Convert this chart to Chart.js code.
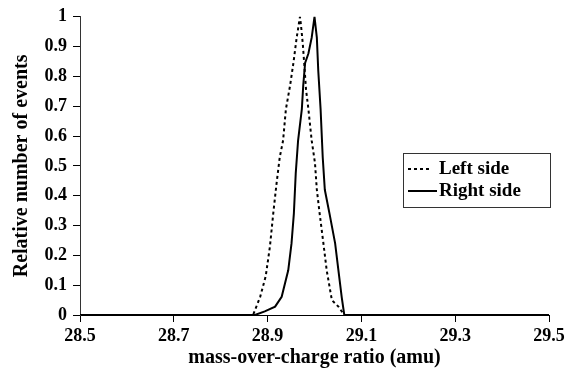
<!DOCTYPE html>
<html>
<head>
<meta charset="utf-8">
<script src="https://cdn.jsdelivr.net/npm/chart.js@4.4.1/dist/chart.umd.min.js"></script>
<style>
  html, body { margin: 0; padding: 0; background: #fff; }
  #wrap { width: 575px; height: 374px; }
</style>
</head>
<body>
<div id="wrap"><canvas id="peakChart"></canvas></div>
<script>
// axis ticks
const xTicks = [28.5, 28.7, 28.9, 29.1, 29.3, 29.5];
const yTicks = [0, 0.1, 0.2, 0.3, 0.4, 0.5, 0.6, 0.7, 0.8, 0.9, 1];

// Left side (dashed)
const leftMass = [28.5, 28.869, 28.884, 28.896, 28.905, 28.912, 28.919, 28.926, 28.933, 28.939,
  28.948, 28.955, 28.962, 28.969, 28.971, 28.975, 28.978, 28.982, 28.987, 28.994,
  29.001, 29.005, 29.011, 29.019, 29.026, 29.037, 29.051, 29.0635, 29.5];
const leftEvents = [0, 0, 0.06, 0.13, 0.23, 0.34, 0.44, 0.53, 0.585, 0.69,
  0.77, 0.845, 0.93, 1.0, 0.975, 0.91, 0.845, 0.755, 0.69, 0.585,
  0.51, 0.42, 0.34, 0.24, 0.15, 0.05, 0.028, 0, 0];

// Right side (solid)
const rightMass = [28.5, 28.873, 28.894, 28.916, 28.930, 28.944, 28.951, 28.956, 28.960, 28.965,
  28.973, 28.976, 28.980, 28.987, 28.994, 29.000, 29.005, 29.008, 29.013, 29.0175,
  29.022, 29.032, 29.044, 29.051, 29.058, 29.0635, 29.5];
const rightEvents = [0, 0, 0.012, 0.028, 0.061, 0.15, 0.24, 0.34, 0.475, 0.585,
  0.69, 0.77, 0.845, 0.877, 0.93, 1.0, 0.93, 0.82, 0.69, 0.53,
  0.42, 0.34, 0.24, 0.15, 0.06, 0, 0];

function toPoints(xs, ys) {
  return xs.map((x, i) => ({ x: x, y: ys[i] }));
}

const FONT = "'Liberation Serif', 'Times New Roman', serif";

// legend drawn inside the plot, boxed
const boxLegend = {
  id: 'boxLegend',
  afterDatasetsDraw(chart) {
    const c = chart.ctx;
    const x0 = 403, y0 = 153, w = 147, h = 54;
    c.save();
    c.strokeStyle = '#333';
    c.lineWidth = 1;
    c.strokeRect(x0 + 0.5, y0 + 0.5, w, h);
    c.font = 'bold 19px ' + FONT;
    c.fillStyle = '#000';
    c.textBaseline = 'middle';
    chart.data.datasets.forEach((ds, i) => {
      const yy = y0 + 16 + i * 22;
      c.beginPath();
      c.strokeStyle = '#000';
      c.lineWidth = 2;
      c.setLineDash(ds.borderDash || []);
      c.moveTo(x0 + 5, yy);
      c.lineTo(x0 + (ds.borderDash ? 28 : 34), yy);
      c.stroke();
      c.setLineDash([]);
      c.fillText(ds.label, x0 + 36, yy);
    });
    c.restore();
  }
};

const ctx = document.getElementById('peakChart').getContext('2d');

new Chart(ctx, {
  type: 'scatter',
  data: {
    datasets: [
      {
        label: 'Left side',
        data: toPoints(leftMass, leftEvents),
        showLine: true,
        borderColor: '#000',
        borderWidth: 2,
        borderDash: [3, 3],
        pointRadius: 0,
        tension: 0
      },
      {
        label: 'Right side',
        data: toPoints(rightMass, rightEvents),
        showLine: true,
        borderColor: '#000',
        borderWidth: 2,
        pointRadius: 0,
        tension: 0
      }
    ]
  },
  options: {
    responsive: true,
    maintainAspectRatio: false,
    animation: false,
    layout: { padding: { top: 13, right: 26, bottom: 0, left: 0 } },
    plugins: {
      legend: { display: false },
      tooltip: { enabled: false }
    },
    scales: {
      x: {
        type: 'linear',
        min: 28.5,
        max: 29.5,
        afterFit: s => { s.height = 59; },
        afterBuildTicks: s => { s.ticks = xTicks.map(v => ({ value: v })); },
        ticks: {
          color: '#000',
          font: { family: FONT, size: 18, weight: 'bold' },
          padding: 4,
          maxRotation: 0,
          callback: v => Number(v).toFixed(1)
        },
        grid: { drawOnChartArea: false, drawTicks: true, tickLength: 7, color: '#000' },
        border: { display: true, color: '#000', width: 1 },
        title: {
          display: true,
          text: 'mass-over-charge ratio (amu)',
          color: '#000',
          font: { family: FONT, size: 20, weight: 'bold' },
          padding: { top: 0, bottom: 4 }
        }
      },
      y: {
        min: 0,
        max: 1,
        afterFit: s => { s.width = 80; },
        afterBuildTicks: s => { s.ticks = yTicks.map(v => ({ value: v })); },
        ticks: {
          color: '#000',
          font: { family: FONT, size: 18, weight: 'bold' },
          padding: 6,
          callback: v => String(v)
        },
        grid: { drawOnChartArea: false, drawTicks: true, tickLength: 7, color: '#000' },
        border: { display: true, color: '#333', width: 1 },
        title: {
          display: true,
          text: 'Relative number of events',
          color: '#000',
          font: { family: FONT, size: 20, weight: 'bold' },
          padding: { top: 10, bottom: 0 }
        }
      }
    }
  },
  plugins: [boxLegend]
});
</script>
</body>
</html>
